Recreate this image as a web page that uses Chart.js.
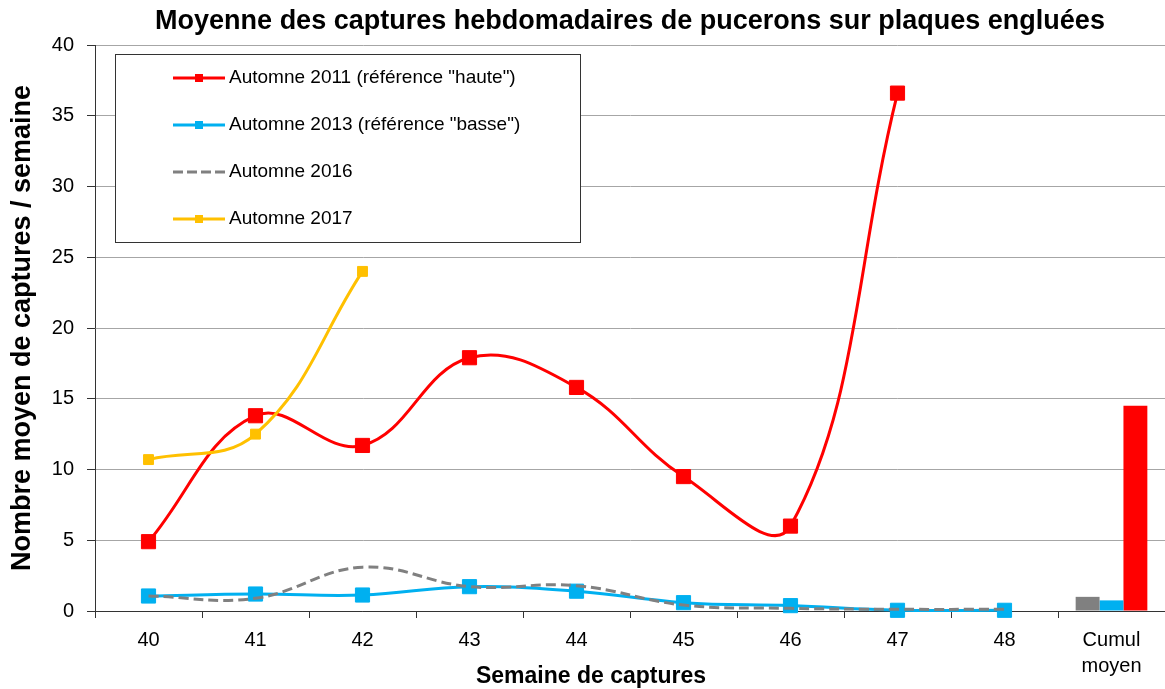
<!DOCTYPE html>
<html>
<head>
<meta charset="utf-8">
<script src="https://cdn.jsdelivr.net/npm/chart.js@4.4.1/dist/chart.umd.min.js"></script>
<style>
  html, body { margin: 0; padding: 0; background: #ffffff; }
  #c { display: block; }
</style>
</head>
<body>
<canvas id="c" width="1165" height="689"></canvas>
<script>
// ---- Data ----
const categories = ['40', '41', '42', '43', '44', '45', '46', '47', '48', ['Cumul', 'moyen']];
const automne2011 = [4.9, 13.8, 11.7, 17.9, 15.8, 9.5, 6.0, 36.6, null, null];
const automne2013 = [1.06, 1.2, 1.13, 1.72, 1.4, 0.59, 0.38, 0.05, 0.05, null];
const automne2016 = [1.06, 0.9, 3.1, 1.72, 1.79, 0.42, 0.19, 0.12, 0.12, null];
const automne2017 = [10.7, 12.5, 24.0, null, null, null, null, null, null, null];
// Cumul moyen bars (order: 2016, 2013, 2011)
const cumulSeries = ['Automne 2016', 'Automne 2013', 'Automne 2011'];
const cumulValues = [1.0, 0.75, 14.5];
const yTicks = { min: 0, max: 40, step: 5 };

const seriesLabels = ['Automne 2011 (référence "haute")', 'Automne 2013 (référence "basse")', 'Automne 2016', 'Automne 2017'];
const chartTitle = 'Moyenne des captures hebdomadaires de pucerons sur plaques engluées';
const xTitle = 'Semaine de captures';
const yTitle = 'Nombre moyen de captures / semaine';

const RED = '#FF0000', BLUE = '#00B0F0', GRAY = '#808080', YELLOW = '#FFC000';
const FONT = "'Liberation Sans', Arial, sans-serif";

function cumulData(v) {
  return categories.map((c, i) => (i === categories.length - 1 ? v : null));
}

const lineDatasets = [
  { type: 'line', label: seriesLabels[0], data: automne2011, borderColor: RED, backgroundColor: RED,
    borderWidth: 3, pointStyle: 'rect', pointRadius: 10, pointBorderWidth: 1, pointBackgroundColor: RED, pointBorderColor: RED,
    tension: 0.4, order: 4, clip: false, _legend: { dash: [], marker: 8 } },
  { type: 'line', label: seriesLabels[1], data: automne2013, borderColor: BLUE, backgroundColor: BLUE,
    borderWidth: 3, pointStyle: 'rect', pointRadius: 10, pointBorderWidth: 1, pointBackgroundColor: BLUE, pointBorderColor: BLUE,
    tension: 0.4, order: 3, clip: false, _legend: { dash: [], marker: 8 } },
  { type: 'line', label: seriesLabels[2], data: automne2016, borderColor: GRAY, backgroundColor: GRAY,
    borderWidth: 3, borderDash: [10, 5], pointRadius: 0, tension: 0.4, order: 2, clip: false, _legend: { dash: [10, 4], marker: 0 } },
  { type: 'line', label: seriesLabels[3], data: automne2017, borderColor: YELLOW, backgroundColor: YELLOW,
    borderWidth: 3, pointStyle: 'rect', pointRadius: 7, pointBorderWidth: 1, pointBackgroundColor: YELLOW, pointBorderColor: YELLOW,
    tension: 0.4, order: 1, clip: false, _legend: { dash: [], marker: 8 } }
];

const barColors = [GRAY, BLUE, RED];
const barDatasets = cumulSeries.map((name, i) => ({
  type: 'bar', label: 'Cumul ' + name, data: cumulData(cumulValues[i]),
  backgroundColor: barColors[i], borderWidth: 0,
  categoryPercentage: 0.67, barPercentage: 1.0, order: 5 + i, _nolegend: true
}));

const insideLegend = {
  id: 'insideLegend',
  afterDraw(chart) {
    const ctx = chart.ctx;
    const a = chart.chartArea;
    const bx = a.left + 20.5, by = a.top + 9.5, bw = 465, bh = 188;
    ctx.save();
    ctx.fillStyle = '#ffffff';
    ctx.fillRect(bx, by, bw, bh);
    ctx.strokeStyle = '#333333';
    ctx.lineWidth = 1;
    ctx.strokeRect(bx, by, bw, bh);
    const items = chart.data.datasets.filter(d => !d._nolegend);
    items.forEach((d, i) => {
      const y = a.top + 33 + i * 47;
      const x0 = a.left + 78, x1 = a.left + 130;
      ctx.strokeStyle = d.borderColor;
      ctx.lineWidth = 3;
      ctx.setLineDash(d._legend.dash);
      ctx.beginPath();
      ctx.moveTo(x0, y);
      ctx.lineTo(x1, y);
      ctx.stroke();
      ctx.setLineDash([]);
      const m = d._legend.marker;
      if (m) {
        ctx.fillStyle = d.borderColor;
        ctx.fillRect((x0 + x1) / 2 - m / 2, y - m / 2, m, m);
      }
      ctx.fillStyle = '#000000';
      ctx.font = '19px ' + FONT;
      ctx.textBaseline = 'middle';
      ctx.textAlign = 'left';
      ctx.fillText(d.label, x1 + 4, y);
    });
    // x axis title (placed as in the reference, left of the plot centre)
    ctx.font = 'bold 23px ' + FONT;
    ctx.textAlign = 'center';
    ctx.textBaseline = 'middle';
    ctx.fillStyle = '#000000';
    ctx.fillText(xTitle, 591, 677);
    ctx.restore();
  }
};

new Chart(document.getElementById('c'), {
  data: { labels: categories, datasets: [...lineDatasets, ...barDatasets] },
  options: {
    responsive: false,
    animation: false,
    layout: { autoPadding: false, padding: { left: 0, right: 0, top: 0, bottom: 0 } },
    plugins: {
      legend: { display: false },
      tooltip: { enabled: false },
      title: {
        display: true,
        text: chartTitle,
        color: '#000000',
        font: { family: FONT, size: 27, weight: 'bold', lineHeight: 1.0 },
        padding: { top: 8.5, bottom: 9.5 },
        fullSize: false
      }
    },
    scales: {
      x: {
        offset: true,
        grid: { display: true, drawOnChartArea: false, offset: true, tickLength: 7, tickColor: '#333333', tickWidth: 1 },
        border: { display: true, color: '#333333', width: 1 },
        ticks: { color: '#000000', font: { family: FONT, size: 20, lineHeight: 1.3 }, padding: 9, maxRotation: 0, autoSkip: false },
        title: { display: false },
        afterFit(scale) { scale.height = 78; scale.paddingLeft = 0; scale.paddingRight = 0; }
      },
      y: {
        min: yTicks.min, max: yTicks.max,
        grid: { color: '#a6a6a6', lineWidth: 1, tickLength: 8, tickColor: '#333333', tickWidth: 1 },
        border: { display: true, color: '#333333', width: 1 },
        ticks: { stepSize: yTicks.step, color: '#000000', font: { family: FONT, size: 20 }, padding: 13 },
        title: { display: true, text: yTitle, color: '#000000',
          font: { family: FONT, size: 27, weight: 'bold', lineHeight: 1.2 }, padding: { top: 6, bottom: 0 } },
        afterFit(scale) { scale.width = 95; scale.paddingTop = 0; scale.paddingBottom = 0; }
      }
    }
  },
  plugins: [insideLegend]
});
</script>
</body>
</html>
